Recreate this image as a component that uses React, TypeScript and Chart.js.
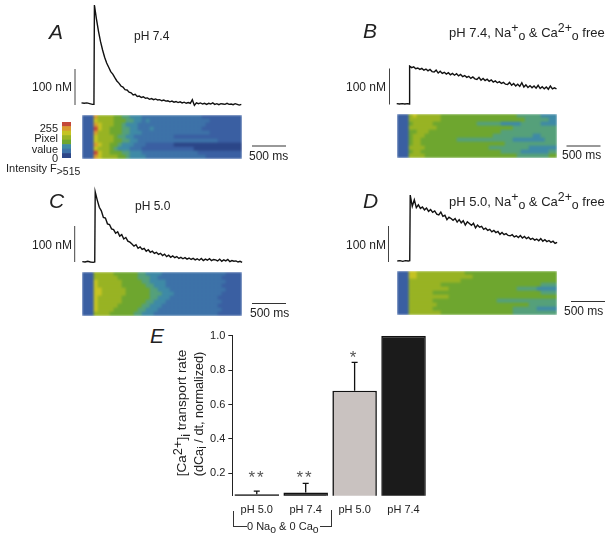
import React, { useEffect, useRef } from "react";
import { Chart, registerables } from "chart.js";

Chart.register(...registerables);

const FONT = "'Liberation Sans', Arial, sans-serif";
const INK = "#222";

// ---------- trace data (ms, nM) ----------
const preTimes = [0, 40, 80, 120, 160, 183];
const traceTimes = [190,220,250,280,310,340,370,400,430,460,490,520,550,580,610,640,670,700,730,760,790,820,850,880,910,940,970,1000,1030,1060,1090,1120,1150,1180,1210,1240,1270,1300,1330,1360,1390,1420,1450,1480,1510,1540,1570,1600,1630,1660,1690,1720,1750,1780,1810,1840,1870,1900,1930,1960,1990,2020,2050,2080,2110,2140,2170,2200,2230,2260,2290,2320,2350];

const preA = [3, 2, 3, 1, -1, -1];
const traceA = [275,236,202,173,150,130,114,102,90,83,73,64,58,50,47,40,39,33,31,25,27,21,22,18,20,16,17,13,15,12,14,11,12,9,11,8,9,6,8,5,7,4,6,3,5,2,4,2,12,-4,3,1,3,0,2,-1,2,0,3,-1,1,-2,1,0,-1,2,-1,0,-2,1,-1,-3,-1];
const preB = [1, 0, 1, 0, 1, 0];
const traceB = [105,101,103,98,100,96,99,94,97,92,96,90,89,94,86,91,85,88,83,87,81,85,80,84,78,82,76,79,74,77,71,75,70,68,74,66,71,65,69,63,67,61,64,59,62,57,60,55,54,60,52,57,50,55,49,59,47,53,46,51,45,50,44,52,43,48,42,47,41,50,42,45,42];
const preC = [1, 0, 2, 0, -1, 0];
const traceC = [195,172,152,142,124,122,106,104,92,90,80,84,72,76,64,68,58,55,50,44,48,38,42,35,38,30,34,27,30,24,27,21,24,18,22,15,19,13,17,12,15,10,13,9,12,8,11,7,10,6,9,5,10,4,8,5,9,4,7,6,3,8,2,6,3,7,1,4,2,3,0,2,-1];
const preD = [0, 1, -1, 1, 0, 1];
const traceD = [183,152,170,148,156,146,150,142,147,138,143,135,139,130,128,136,124,127,115,122,118,113,118,108,115,106,112,100,109,104,99,105,92,100,94,96,88,91,85,88,81,85,79,82,74,79,73,76,71,70,73,67,70,65,71,64,68,62,66,60,63,58,61,56,62,55,59,54,57,52,55,49,52];

const scaleBarNm = 100;
const scaleBarMs = 500;

// ---------- line-scan intensity levels (row = scan line, char = level) ----------
const heatPalette = ["#2c4688", "#3a5fa2", "#3d72a8", "#3f8aa6", "#55a07a", "#6ea62f", "#98b324", "#c5c322", "#d99a30", "#c4483a"];

const heatA = [
  "1118666655443332222222222222221111111111",
  "1117666655544332322222222222222211111111",
  "1118766655433322222222222222222111111111",
  "1119766555443322232222222222221111111111",
  "1118666555443332222222222222222211111111",
  "1117666654433222222222211111111111111111",
  "1117666655443322222222222222222222111111",
  "1118766554333222111111100000000000000000",
  "1117666543332221111111111111000000000000",
  "1119766555443332222222222222211111111111",
  "1118766665543333222222222222222111111111",
];
const heatB = [
  "1116766666655555555555555555554444443333",
  "1116666666655555555555555555555544444433",
  "1115666665555555555544444433333444443333",
  "1116666666555555555555555555544444444444",
  "1115566655555555555555555544444444444444",
  "1115666555555555555555554444444444334444",
  "1115665555555554444444444444433333333444",
  "1115665555555555555555555554444444444444",
  "1116666555555555555555544444444443333333",
  "1115665555555555555555555544444333333344",
  "1116666555555555555555555555554444444455",
];
const heatC = [
  "1116666655555544333322222222222222221111",
  "1116666665555544433222222222222222211111",
  "1117666666555554433332222222222222221111",
  "1117666666555555443332222222222222211111",
  "1117766666655555544333222222222222221111",
  "1117766666655555544433322222222222211111",
  "1117666666555555544333222222222222111111",
  "1117666666555555443332222222222222211111",
  "1117666665555554433322222222222222111111",
  "1117666655555544333222222222222222211111",
  "1116666555555443332222222222222222111111",
];
const heatD = [
  "1117766666666666655555555555555555555555",
  "1117766666666666666555555555555555555555",
  "1116666666666666555555555555555555555555",
  "1116666666655555555555555555555555554444",
  "1116666666666555555555555555554444433333",
  "1116666665555555555555555555555555554444",
  "1116666666666555555555555555555555555555",
  "1116666665555555555555555444444444444444",
  "1116666666555555555555555555555554444444",
  "1116666665555555555555555555544444433333",
  "1116666666655555555555555555544444444444",
];
const colorbarLevels = ["9", "8", "7", "6", "5", "3", "2", "0"];

// ---------- bar chart data ----------
const barCategories = ["pH 5.0", "pH 7.4", "pH 5.0 ", "pH 7.4 "];
const barValues = [0.078, 0.088, 0.68, 1.0];
const barErrorTops = [0.097, 0.142, 0.845, 1.0];
const barColors = ["#111", "#111", "#c9c2c0", "#1b1b1b"];
const barTicks = [0.2, 0.4, 0.6, 0.8, 1.0];

const PX_PER_MS = 34 / 500;
const PX_PER_NM = 36 / 100;

type TraceProps = {
  box: number[]; x0: number; y0: number; pre: number[]; values: number[];
  barX: number; barBottom: number; scaleX: number; scaleY: number;
};

function TraceChart({ box, x0, y0, pre, values, barX, barBottom, scaleX, scaleY }: TraceProps) {
  const ref = useRef<HTMLCanvasElement>(null);
  const [left, top, width, height] = box;
  useEffect(() => {
    const toMs = (px: number) => (px - x0) / PX_PER_MS;
    const toNm = (py: number) => (y0 - py) / PX_PER_NM;
    const times = [...preTimes, ...traceTimes];
    const pts = [...pre, ...values].map((y, i) => ({ x: times[i], y }));
    const bar = [{ x: toMs(barX), y: toNm(barBottom) }, { x: toMs(barX), y: toNm(barBottom) + scaleBarNm }];
    const sb = [{ x: toMs(scaleX), y: toNm(scaleY) }, { x: toMs(scaleX) + scaleBarMs, y: toNm(scaleY) }];
    const line = (data: any, w: number, color: string) => ({
      data, borderColor: color, borderWidth: w, pointRadius: 0, showLine: true, tension: 0, fill: false,
    });
    const chart = new Chart(ref.current!, {
      type: "scatter",
      data: { datasets: [line(pts, 1.4, "#111"), line(bar, 1, "#444"), line(sb, 1, "#333")] },
      options: {
        animation: false, responsive: false, devicePixelRatio: 1,
        layout: { padding: 0 },
        plugins: { legend: { display: false }, tooltip: { enabled: false } },
        scales: {
          x: { type: "linear", display: false, min: toMs(left), max: toMs(left + width) },
          y: { type: "linear", display: false, min: toNm(top + height), max: toNm(top) },
        },
      },
    } as any);
    return () => chart.destroy();
  }, []);
  return <canvas ref={ref} width={width} height={height} style={{ position: "absolute", left, top, width, height }} />;
}

function HeatChart({ box, rows, blur = 0 }: { box: number[]; rows: string[]; blur?: number }) {
  const ref = useRef<HTMLCanvasElement>(null);
  const [left, top, width, height] = box;
  useEffect(() => {
    const cols = rows[0].length;
    const labels = Array.from(rows[0]).map((_, i) => String(i));
    const datasets = [...rows].reverse().map((row) => ({
      data: labels.map(() => 1),
      backgroundColor: labels.map((_, i) => heatPalette[Number(row[i] ?? row[cols - 1])]),
      borderWidth: 0,
      barPercentage: 1,
      categoryPercentage: 1,
    }));
    const chart = new Chart(ref.current!, {
      type: "bar",
      data: { labels, datasets },
      options: {
        animation: false, responsive: false, devicePixelRatio: 1,
        plugins: { legend: { display: false }, tooltip: { enabled: false } },
        scales: {
          x: { stacked: true, display: false },
          y: { stacked: true, display: false, min: 0, max: rows.length },
        },
      },
    } as any);
    return () => chart.destroy();
  }, []);
  return (
    <div style={{ position: "absolute", left, top, width, height, overflow: "hidden" }}>
      <canvas ref={ref} width={width} height={height} style={{ display: "block", width, height, filter: blur ? `blur(${blur}px)` : undefined }} />
    </div>
  );
}

function BarChart() {
  const ref = useRef<HTMLCanvasElement>(null);
  useEffect(() => {
    const errorBars = {
      id: "errorBars",
      afterDatasetsDraw(chart: any) {
        const { ctx, scales } = chart;
        const meta = chart.getDatasetMeta(0);
        ctx.save();
        ctx.strokeStyle = "#111";
        ctx.lineWidth = 1.3;
        barErrorTops.forEach((top, i) => {
          if (top <= barValues[i]) return;
          const x = meta.data[i].x;
          const y0 = scales.y.getPixelForValue(barValues[i]);
          const y1 = scales.y.getPixelForValue(top);
          ctx.beginPath();
          ctx.moveTo(x, y0);
          ctx.lineTo(x, y1);
          ctx.moveTo(x - 3, y1);
          ctx.lineTo(x + 3, y1);
          ctx.stroke();
        });
        ctx.restore();
      },
    };
    const chart = new Chart(ref.current!, {
      type: "bar",
      data: {
        labels: barCategories,
        datasets: [{
          data: barValues, backgroundColor: barColors, borderColor: "#111", borderWidth: 1.6,
          barPercentage: 0.91, categoryPercentage: 1,
        }],
      },
      options: {
        animation: false, responsive: false, devicePixelRatio: 1,
        layout: { padding: { top: 15.7, bottom: 0, left: 0, right: 0 } },
        plugins: { legend: { display: false }, tooltip: { enabled: false } },
        scales: {
          y: {
            type: "linear", min: 0.07, max: 1.0,
            afterFit: (s: any) => { s.width = 62.3; },
            afterBuildTicks: (s: any) => { s.ticks = barTicks.map((value) => ({ value })); },
            ticks: {
              autoSkip: false, padding: 3, color: INK, font: { family: FONT, size: 11 },
              callback: (v: any) => Number(v).toFixed(1),
            },
            grid: { drawOnChartArea: false, drawTicks: true, tickLength: 4, color: INK },
            border: { display: true, color: INK },
          },
          x: {
            afterFit: (s: any) => { s.height = 40.3; },
            ticks: { padding: 8, color: INK, maxRotation: 0, font: { family: FONT, size: 11 }, callback: (_: any, i: number) => barCategories[i].trim() },
            grid: { display: false, drawTicks: false },
            border: { display: false },
          },
        },
      },
      plugins: [errorBars],
    } as any);
    return () => chart.destroy();
  }, []);
  return <canvas ref={ref} width={258} height={216} style={{ position: "absolute", left: 170, top: 320, width: 258, height: 216 }} />;
}

function T({ x, y, size = 12, align = "left", italic, color = INK, spacing, children }: any) {
  const tx = align === "right" ? "-100%" : align === "center" ? "-50%" : "0";
  return (
    <div style={{
      position: "absolute", left: x, top: y, transform: `translate(${tx}, -50%)`, fontFamily: FONT,
      fontSize: size, lineHeight: 1, whiteSpace: "nowrap", fontStyle: italic ? "italic" : "normal", color, letterSpacing: spacing,
    }}>{children}</div>
  );
}
const Sup = ({ children }: any) => <span style={{ fontSize: "0.95em", verticalAlign: "0.35em", lineHeight: 0 }}>{children}</span>;
const Sub = ({ children }: any) => <span style={{ fontSize: "0.95em", verticalAlign: "-0.3em", lineHeight: 0 }}>{children}</span>;
const Rot = ({ x, y, size, children }: any) => (
  <div style={{
    position: "absolute", left: x, top: y, transform: "translate(-50%, -50%) rotate(-90deg)", fontFamily: FONT,
    fontSize: size, lineHeight: 1, whiteSpace: "nowrap", color: INK,
  }}>{children}</div>
);
const Rule = ({ x, y, w, h }: any) => <div style={{ position: "absolute", left: x, top: y, width: w, height: h, background: "#333" }} />;

export default function App() {
  return (
    <div style={{ position: "fixed", left: 0, top: 0, width: 613, height: 536, background: "#fff", overflow: "hidden" }}>
      <TraceChart box={[60, 0, 240, 165]} x0={81.5} y0={104} pre={preA} values={traceA} barX={75} barBottom={105} scaleX={252} scaleY={146} />
      <TraceChart box={[380, 40, 233, 125]} x0={396.7} y0={104} pre={preB} values={traceB} barX={389.5} barBottom={104.5} scaleX={566.5} scaleY={146} />
      <TraceChart box={[60, 185, 240, 135]} x0={82.3} y0={262} pre={preC} values={traceC} barX={74.7} barBottom={262} scaleX={252} scaleY={303.5} />
      <TraceChart box={[380, 190, 233, 130]} x0={397.3} y0={261} pre={preD} values={traceD} barX={388.5} barBottom={262} scaleX={571} scaleY={301.5} />

      <HeatChart box={[82, 115, 160, 44]} rows={heatA} blur={0.9} />
      <HeatChart box={[397, 114, 160, 44]} rows={heatB} blur={0.9} />
      <HeatChart box={[82, 272, 160, 44]} rows={heatC} blur={0.9} />
      <HeatChart box={[397, 271, 160, 44]} rows={heatD} blur={0.9} />
      <HeatChart box={[62, 122, 9, 36]} rows={colorbarLevels} />

      <BarChart />

      <T x={49} y={31} size={21} italic>A</T>
      <T x={363} y={30} size={21} italic>B</T>
      <T x={49} y={200} size={21} italic>C</T>
      <T x={363} y={200} size={21} italic>D</T>
      <T x={150} y={335} size={21} italic>E</T>

      <T x={134} y={36}>pH 7.4</T>
      <T x={135} y={206}>pH 5.0</T>
      <T x={449} y={32} size={13}>pH 7.4, Na<Sup>+</Sup><Sub>o</Sub> &amp; Ca<Sup>2+</Sup><Sub>o</Sub> free</T>
      <T x={449} y={201} size={13}>pH 5.0, Na<Sup>+</Sup><Sub>o</Sub> &amp; Ca<Sup>2+</Sup><Sub>o</Sub> free</T>

      <T x={72} y={87} align="right">100 nM</T>
      <T x={386} y={87} align="right">100 nM</T>
      <T x={72} y={245} align="right">100 nM</T>
      <T x={386} y={245} align="right">100 nM</T>

      <T x={249} y={156}>500 ms</T>
      <T x={562} y={155}>500 ms</T>
      <T x={250} y={313}>500 ms</T>
      <T x={564} y={311}>500 ms</T>

      <T x={58} y={128} size={11} align="right">255</T>
      <T x={58} y={138} size={11} align="right">Pixel</T>
      <T x={58} y={148.5} size={11} align="right">value</T>
      <T x={58} y={158} size={11} align="right">0</T>
      <T x={6} y={168} size={11}>Intensity F<Sub>&gt;515</Sub></T>

      <T x={257} y={477} size={17} align="center" spacing={2} color="#555">**</T>
      <T x={305} y={477} size={17} align="center" spacing={2} color="#555">**</T>
      <T x={353} y={357} size={17} align="center" color="#555">*</T>

      <Rot x={182} y={413} size={13.5}>[Ca<Sup>2+</Sup>]<Sub>i</Sub> transport rate</Rot>
      <Rot x={199} y={414} size={12.7}>(dCa<Sub>i</Sub> / dt, normalized)</Rot>

      <Rule x={232.5} y={511} w={1} h={15} />
      <Rule x={232.5} y={526} w={14} h={1} />
      <Rule x={320} y={526} w={11} h={1} />
      <Rule x={331} y={510} w={1} h={17} />
      <T x={247} y={526} size={11}>0 Na<Sub>o</Sub> &amp; 0 Ca<Sub>o</Sub></T>
    </div>
  );
}
